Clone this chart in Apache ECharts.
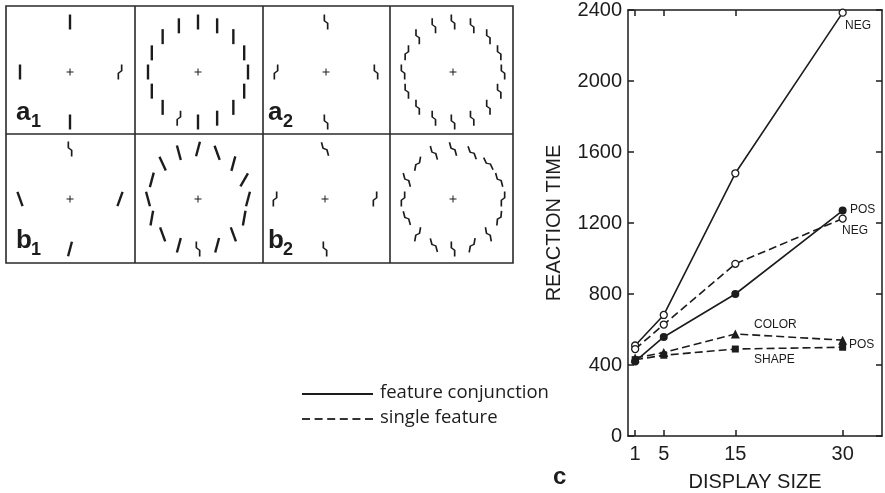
<!DOCTYPE html>
<html>
<head>
<meta charset="utf-8">
<script src="https://cdn.jsdelivr.net/npm/echarts@6/dist/echarts.min.js"></script>
<style>
  html, body { margin: 0; padding: 0; background: #fff; }
  #chart { width: 885px; height: 493px; }
</style>
</head>
<body>
<div id="chart"></div>
<script>
// panel c: reaction time vs display size
const displaySizes = [1, 5, 15, 30];
const conjNeg = [510, 682, 1480, 2385];
const conjPos = [420, 558, 800, 1270];
const singleNeg = [490, 628, 970, 1225];
const singleColor = [440, 470, 575, 540];
const singleShape = [430, 455, 490, 500];
const yTicks = [0, 400, 800, 1200, 1600, 2000, 2400];

// stimulus displays: [radius, angle (deg, clockwise from top), shape, tilt (deg, ccw)]
const a1Few = [[1, 0, 'line', 0], [1, 90, 'zigL', 0], [1, 180, 'line', 0], [1, 270, 'line', 0]];
const a1Many = [
  [1, 0, 'line', 0], [1, 22.5, 'line', 0], [1, 45, 'line', 0], [1, 67.5, 'line', 0],
  [1, 90, 'line', 0], [1, 112.5, 'line', 0], [1, 135, 'line', 0], [1, 157.5, 'line', 0],
  [1, 180, 'line', 0], [1, 202.5, 'zigL', 0], [1, 225, 'line', 0], [1, 247.5, 'line', 0],
  [1, 270, 'line', 0], [1, 292.5, 'line', 0], [1, 315, 'line', 0], [1, 337.5, 'line', 0]
];
const a2Few = [[1, 0, 'zigR', 0], [1, 90, 'zigR', 0], [1, 180, 'zigR', 0], [1, 270, 'zigL', 0]];
const a2Many = [
  [1, 0, 'zigR', 0], [1, 22.5, 'zigR', 0], [1, 45, 'zigR', 0], [1, 67.5, 'zigR', 0],
  [1, 90, 'zigR', 0], [1, 112.5, 'zigR', 0], [1, 135, 'zigR', 0], [1, 157.5, 'zigR', 0],
  [1, 180, 'zigR', 0], [1, 202.5, 'zigR', 0], [1, 225, 'zigR', 0], [1, 247.5, 'zigR', 0],
  [1, 270, 'zigR', 0], [1, 292.5, 'zigL', 0], [1, 315, 'zigR', 0], [1, 337.5, 'zigR', 0]
];
const b1Few = [[1, 0, 'zigR', 0], [1, 90, 'line', -20], [1, 180, 'line', -15], [1, 270, 'line', 20]];
const b1Many = [
  [1, 0, 'line', -15], [1, 22.5, 'line', 20], [1, 45, 'line', -15], [1, 67.5, 'line', -30],
  [1, 90, 'line', -15], [1, 112.5, 'line', -10], [1, 135, 'line', 20], [1, 157.5, 'line', -15],
  [1, 180, 'zigR', 0], [1, 202.5, 'line', -15], [1, 225, 'line', 20], [1, 247.5, 'line', -10],
  [1, 270, 'line', 15], [1, 292.5, 'line', -15], [1, 315, 'line', 25], [1, 337.5, 'line', 15]
];
const b2Few = [[1, 0, 'zigR', 15], [1, 90, 'zigL', 0], [1, 180, 'zigR', 0], [1, 270, 'zigL', 0]];
const b2Many = [
  [1, 0, 'zigR', 15], [1, 22.5, 'zigR', 20], [1, 45, 'zigR', 25], [1, 67.5, 'zigR', 15],
  [1, 90, 'zigL', 0], [1, 112.5, 'zigL', -5], [1, 135, 'zigR', 10], [1, 157.5, 'zigL', -10],
  [1, 180, 'zigR', 0], [1, 202.5, 'zigR', 15], [1, 225, 'zigL', -10], [1, 247.5, 'zigR', 15],
  [1, 270, 'zigL', 0], [1, 292.5, 'zigR', 15], [1, 315, 'zigL', -10], [1, 337.5, 'zigR', 15]
];

const INK = '#1c1c1c';
const SANS = "'Liberation Sans', Arial, sans-serif";
const SHAPES = {
  line: 'rect',
  zigR: 'path://M0,0 L2,0 L2,6.5 L6,9 L6,16 L4,16 L4,9.5 L0,7 Z',
  zigL: 'path://M4,0 L6,0 L6,7 L2,9.5 L2,16 L0,16 L0,9 L4,6.5 Z',
  cross: 'path://M3,0 L4,0 L4,3 L7,3 L7,4 L4,4 L4,7 L3,7 L3,4 L0,4 L0,3 L3,3 Z'
};

const panels = [
  { items: a1Few, center: [70, 72] },
  { items: a1Many, center: [198, 72] },
  { items: a2Few, center: [326, 72] },
  { items: a2Many, center: [453, 72] },
  { items: b1Few, center: [70, 199] },
  { items: b1Many, center: [198, 199] },
  { items: b2Few, center: [325, 199] },
  { items: b2Many, center: [453, 199] }
];

const chart = echarts.init(document.getElementById('chart'));

const polar = panels.map((p) => ({ center: p.center, radius: 50 }));
const angleAxis = panels.map((_, i) => ({
  polarIndex: i, type: 'value', min: 0, max: 360, startAngle: 90, clockwise: true, show: false
}));
const radiusAxis = panels.map((_, i) => ({ polarIndex: i, type: 'value', min: 0, max: 1, show: false }));

const stimulusSeries = [];
panels.forEach((p, i) => {
  stimulusSeries.push({
    type: 'scatter',
    coordinateSystem: 'polar',
    polarIndex: i,
    silent: true,
    data: p.items.map((d) => ({ value: [d[0], d[1]], shape: d[2], tilt: d[3] })),
    symbol: (v, params) => SHAPES[params.data.shape],
    symbolSize: (v, params) => (params.data.shape === 'line' ? [2.4, 15] : [5, 15]),
    symbolRotate: (v, params) => params.data.tilt,
    itemStyle: { color: INK, opacity: 1 }
  });
  stimulusSeries.push({
    type: 'scatter',
    coordinateSystem: 'polar',
    polarIndex: i,
    silent: true,
    data: [[0, 0]],
    symbol: SHAPES.cross,
    symbolSize: 7,
    itemStyle: { color: INK, opacity: 1 }
  });
});

const pts = (vals) => displaySizes.map((x, i) => [x, vals[i]]);
const dashed = [8, 4];

function lineSeries(name, vals, solid, symbol, size, open) {
  return {
    name, type: 'line', data: pts(vals),
    xAxisIndex: 0, yAxisIndex: 0,
    symbol, symbolSize: size, showAllSymbol: true,
    lineStyle: { color: INK, width: 1.6, type: solid ? 'solid' : dashed },
    itemStyle: open
      ? { color: '#fff', borderColor: INK, borderWidth: 1.3 }
      : { color: INK, borderColor: INK, borderWidth: 0 },
    z: open ? 4 : 3
  };
}

const boxLine = { stroke: '#2a2a2a', lineWidth: 1.6 };

const graphic = [
  // stimulus panel frame
  { type: 'rect', shape: { x: 6, y: 6, width: 507, height: 257 }, style: { fill: 'none', ...boxLine } },
  { type: 'line', shape: { x1: 135, y1: 6, x2: 135, y2: 263 }, style: boxLine },
  { type: 'line', shape: { x1: 263, y1: 6, x2: 263, y2: 263 }, style: boxLine },
  { type: 'line', shape: { x1: 390, y1: 6, x2: 390, y2: 263 }, style: boxLine },
  { type: 'line', shape: { x1: 6, y1: 134, x2: 513, y2: 134 }, style: boxLine }
];
[['a', '1', 16, 126], ['a', '2', 268, 126], ['b', '1', 16, 254], ['b', '2', 268, 254]].forEach(([l, s, x, y]) => {
  graphic.push({ type: 'text', x, y, style: { text: l, font: 'bold 26px ' + SANS, fill: INK, verticalAlign: 'bottom' } });
  graphic.push({ type: 'text', x: x + 15, y: y + 5, style: { text: s, font: 'bold 18px ' + SANS, fill: INK, verticalAlign: 'bottom' } });
});
// legend
graphic.push(
  { type: 'line', shape: { x1: 302, y1: 394, x2: 373, y2: 394 }, style: { stroke: INK, lineWidth: 1.8 } },
  { type: 'line', shape: { x1: 302, y1: 419, x2: 373, y2: 419 }, style: { stroke: '#333', lineWidth: 1.8, lineDash: [8, 4.6] } },
  { type: 'text', x: 380, y: 393, style: { text: 'feature conjunction', font: "18.5px 'Open Sans', sans-serif", fill: INK, verticalAlign: 'middle' } },
  { type: 'text', x: 380, y: 418, style: { text: 'single feature', font: "18.5px 'Open Sans', sans-serif", fill: INK, verticalAlign: 'middle' } }
);
// panel c annotations
[['NEG', 845, 26], ['POS', 850, 210], ['NEG', 842, 231], ['COLOR', 754, 325], ['SHAPE', 754, 360], ['POS', 849, 345]].forEach(([t, x, y]) => {
  graphic.push({ type: 'text', x, y, style: { text: t, font: '12px ' + SANS, fill: INK, verticalAlign: 'middle' } });
});
graphic.push({ type: 'text', x: 553, y: 477, style: { text: 'c', font: 'bold 24px ' + SANS, fill: INK, verticalAlign: 'middle' } });

const axisLine = { show: true, onZero: false, lineStyle: { color: INK, width: 1.5 } };
const tickStyle = { inside: true, length: 6, lineStyle: { color: INK, width: 1.5 } };
const axisFont = { fontFamily: SANS, color: INK };

chart.setOption({
  animation: false,
  backgroundColor: '#fff',
  grid: { left: 628, right: 3, top: 10, bottom: 57, containLabel: false, outerBoundsMode: 'none' },
  xAxis: [
    {
      type: 'value', position: 'bottom', min: 0, max: 35.5,
      axisLine, splitLine: { show: false },
      axisTick: { ...tickStyle, customValues: displaySizes },
      axisLabel: { ...axisFont, fontSize: 20, margin: 8, customValues: displaySizes },
      name: 'DISPLAY SIZE', nameLocation: 'middle', nameGap: 36,
      nameTextStyle: { ...axisFont, fontSize: 20 }
    },
    {
      type: 'value', position: 'top', min: 0, max: 35.5,
      axisLine, splitLine: { show: false },
      axisTick: { ...tickStyle, customValues: displaySizes },
      axisLabel: { show: false }
    }
  ],
  yAxis: [
    {
      type: 'value', position: 'left', min: 0, max: 2400, interval: 400,
      axisLine, splitLine: { show: false },
      axisTick: { ...tickStyle, customValues: yTicks },
      axisLabel: { ...axisFont, fontSize: 20, margin: 6, customValues: yTicks, formatter: (v) => String(v) },
      name: 'REACTION TIME', nameLocation: 'middle', nameGap: 64,
      nameTextStyle: { ...axisFont, fontSize: 20 }
    },
    {
      type: 'value', position: 'right', min: 0, max: 2400, interval: 400,
      axisLine, splitLine: { show: false },
      axisTick: tickStyle,
      axisLabel: { show: false }
    }
  ],
  polar, angleAxis, radiusAxis,
  series: [
    lineSeries('conj NEG', conjNeg, true, 'circle', 7, true),
    lineSeries('conj POS', conjPos, true, 'circle', 8, false),
    lineSeries('single NEG', singleNeg, false, 'circle', 7, true),
    lineSeries('COLOR', singleColor, false, 'triangle', 9, false),
    lineSeries('SHAPE', singleShape, false, 'rect', 7, false),
    ...stimulusSeries
  ],
  graphic
});
</script>
</body>
</html>
